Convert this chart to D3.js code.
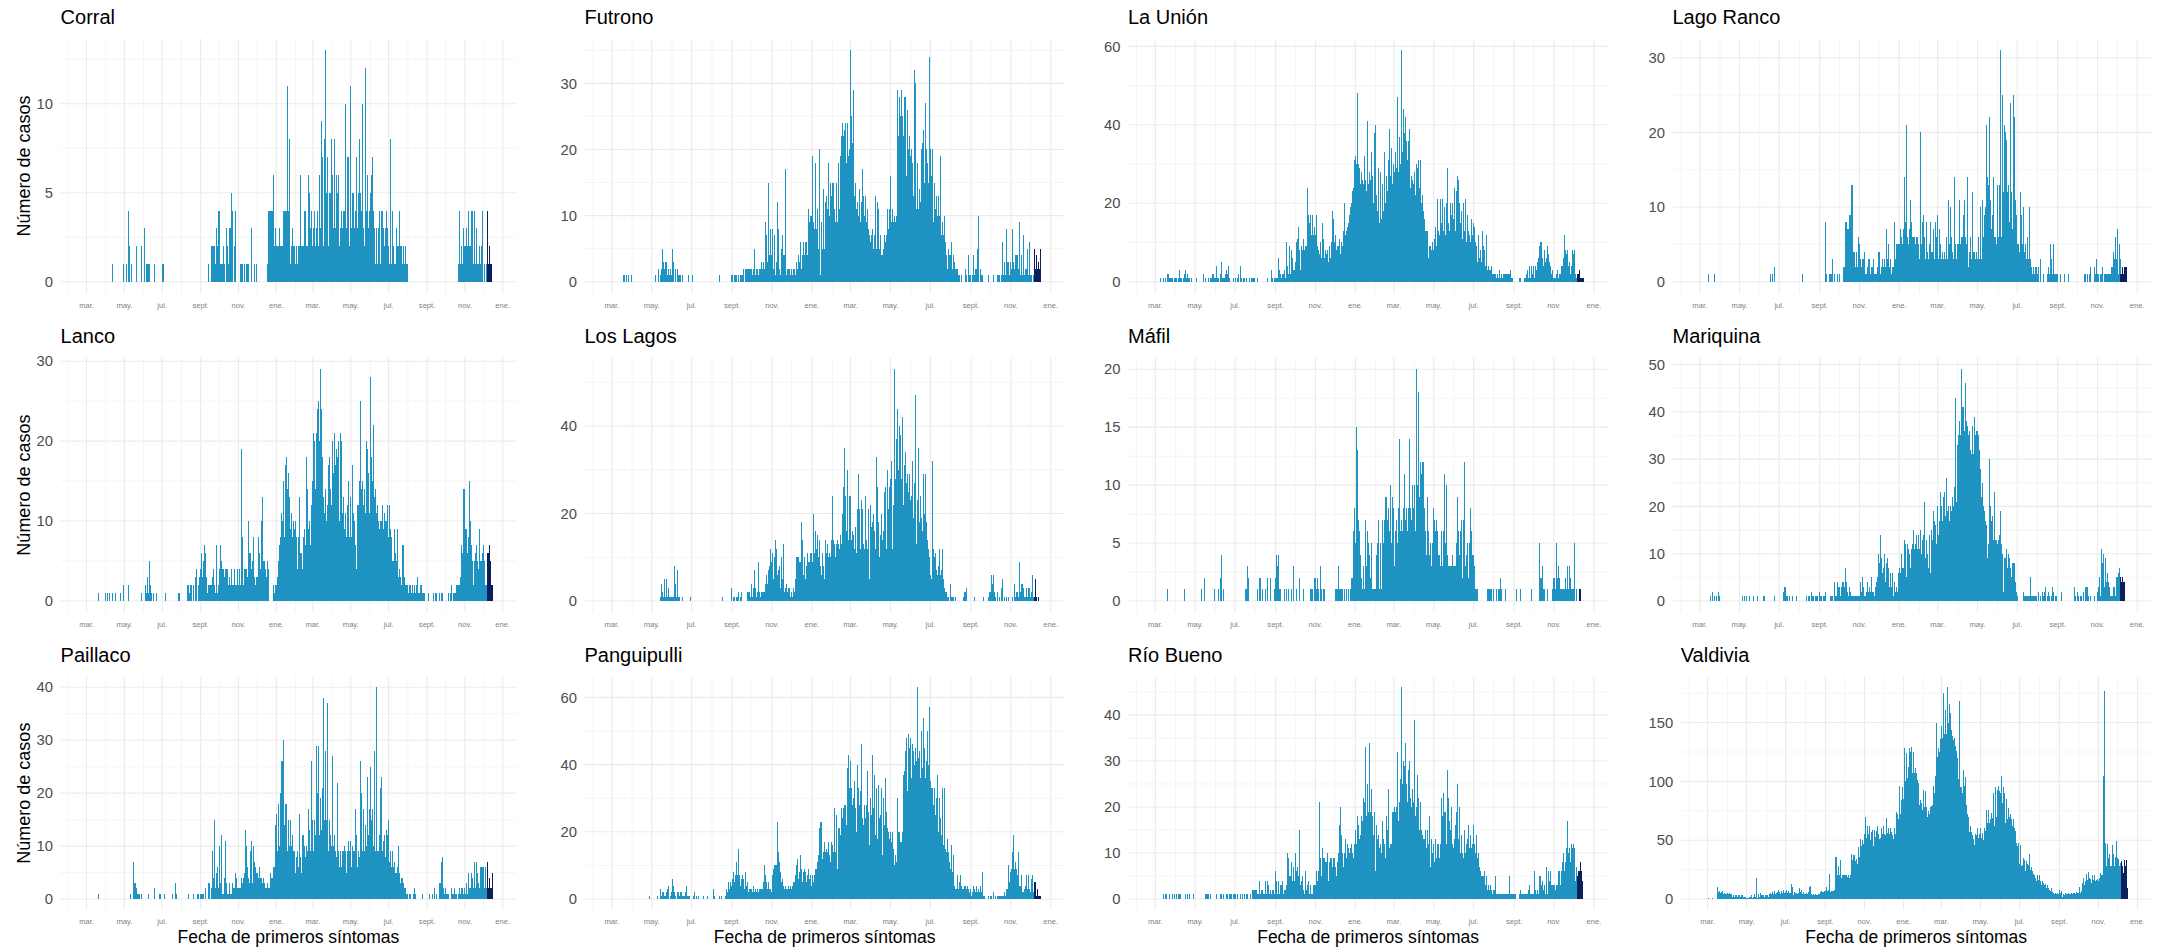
<!DOCTYPE html>
<html><head><meta charset="utf-8">
<script src="https://cdn.jsdelivr.net/npm/d3@7"></script>
<style>
body{margin:0;background:#fff}
svg{display:block}
text{font-family:"Liberation Sans",Arial,Helvetica,sans-serif}
</style>
</head><body>
<svg id="chart" width="2178" height="950"></svg>
<script>
const communes = ["Corral","Futrono","La Unión","Lago Ranco","Lanco","Los Lagos","Máfil","Mariquina","Paillaco","Panguipulli","Río Bueno","Valdivia"];
const xTickLabels = ["mar.","may.","jul.","sept.","nov.","ene.","mar.","may.","jul.","sept.","nov.","ene."];
const yTickSteps = [5,10,20,10,10,20,5,10,10,20,10,50];
const xTitle = "Fecha de primeros síntomas";
const yTitle = "Número de casos";

// daily cases, one sub-array per month: Feb 22-29 2020, Mar 2020 ... Dec 1-20 2021
const corral = [
[0,0,0,0,0,0,0,0],
[0,0,0,0,0,0,0,0,0,0,0,0,0,0,0,0,0,0,0,0,0,0,0,0,0,0,0,0,0,0,0],
[0,0,0,0,0,0,0,0,0,0,0,1,0,0,0,0,0,0,0,0,0,0,0,0,0,0,0,0,0,1],
[0,0,0,0,1,0,0,4,2,1,0,1,0,0,0,0,0,0,0,2,0,0,0,0,0,0,0,0,2,0,0],
[0,0,3,0,0,1,0,1,1,0,1,0,0,0,0,0,0,0,1,0,0,0,0,0,0,0,0,0,0,0],
[1,0,1,0,0,0,0,0,0,0,0,0,0,0,0,0,0,0,0,0,0,0,0,0,0,0,0,0,0,0,0],
[0,0,0,0,0,0,0,0,0,0,0,0,0,0,0,0,0,0,0,0,0,0,0,0,0,0,0,0,0,0,0],
[0,0,0,0,0,0,0,0,0,0,0,0,1,0,0,0,0,0,2,2,1,2,1,2,1,3,1,2,1,4],
[1,4,1,1,0,1,1,2,1,1,0,1,3,1,2,1,3,1,3,5,1,4,1,0,2,0,4,0,0,0,0],
[0,0,0,0,1,1,0,1,0,1,0,0,0,1,0,1,1,0,0,0,0,3,0,0,0,0,1,0,0,1],
[0,0,0,0,0,0,0,0,0,0,0,0,0,0,0,0,0,1,0,4,4,3,4,4,2,4,0,6,2,3,2],
[2,1,2,2,1,3,2,2,2,1,2,4,4,4,4,4,2,4,11,2,4,1,8,1,2,1,3,2,1,2,1],
[1,2,1,1,2,1,2,2,6,1,2,2,1,2,4,1,4,2,1,2,2,6,5,1,3,2,4,1],
[2,3,1,4,2,3,2,4,4,2,1,6,3,6,9,6,7,2,8,4,3,13,5,3,7,2,5,5,5,2,8],
[6,2,3,1,8,3,2,6,1,5,3,6,2,1,3,4,2,3,4,2,4,1,10,3,2,7,7,5,2,4],
[11,3,5,2,4,5,3,4,3,2,7,3,4,5,8,4,5,3,4,10,2,3,2,2,12,3,4,6,3,2,4],
[5,3,6,2,7,4,3,2,3,1,2,3,1,3,2,3,4,1,2,4,4,1,3,2,1,3,3,4,1,3],
[2,1,1,8,1,1,4,1,2,1,1,1,1,3,1,2,2,1,4,2,2,2,1,1,2,1,1,2,1,1,1],
[0,0,0,0,0,0,0,0,0,0,0,0,0,0,0,0,0,0,0,0,0,0,0,0,0,0,0,0,0,0,0],
[0,0,0,0,0,0,0,0,0,0,0,0,0,0,0,0,0,0,0,0,0,0,0,0,0,0,0,0,0,0],
[0,0,0,0,0,0,0,0,0,0,0,0,0,0,0,0,0,0,0,0,0,1,4,2,1,2,1,1,3,1,2],
[1,2,3,1,2,4,1,1,2,2,4,2,1,4,1,2,4,1,3,1,1,1,1,1,2,1,2,2,4,1],
[0,1,0,0,1,0,4,1,1,2,1,1,1,1,0,0,0,0,0,0]
];
const futrono = [
[0,0,0,0,0,0,0,0],
[0,0,0,0,0,0,0,0,0,0,0,0,0,0,0,0,0,0,1,0,1,0,1,0,0,0,1,0,0,0,1],
[0,0,0,0,0,0,0,0,0,0,0,0,0,0,0,0,0,0,0,0,0,0,0,0,0,0,0,0,0,0],
[0,0,0,0,0,0,1,0,0,0,2,0,0,1,0,2,5,4,3,2,1,3,3,2,1,2,2,1,1,2,1],
[0,5,3,1,0,2,1,0,0,2,1,1,0,1,0,0,1,0,0,0,0,0,0,0,0,1,0,0,0,0],
[0,1,0,0,0,0,0,0,0,0,0,0,0,0,0,0,0,0,0,0,0,0,0,0,0,0,0,0,0,0,0],
[0,0,0,0,0,0,0,0,0,0,0,1,0,0,0,0,0,0,0,0,0,0,0,0,0,0,0,0,0,0,1],
[0,1,0,1,0,1,0,1,0,0,1,0,1,0,1,0,1,2,1,0,1,2,2,1,2,2,1,2,2,2],
[1,1,1,2,5,1,1,2,1,2,1,2,1,2,1,3,2,1,3,2,2,9,3,7,3,4,15,4,8,4,4],
[8,4,2,7,4,1,3,2,12,3,8,1,2,1,5,5,7,4,3,4,17,6,1,2,1,2,1,2,1,2],
[2,1,2,1,1,2,1,3,3,2,4,3,3,6,2,2,4,4,6,3,4,6,4,6,4,11,4,9,8,10,7],
[10,19,8,9,8,9,18,8,11,9,5,20,17,1,9,5,5,14,9,5,12,9,13,5,11,5,18,10,9,15,13],
[15,9,15,10,11,9,15,13,9,18,10,11,19,9,22,18,24,22,18,23,18,24,18,18,24,19,18,20],
[35,25,18,21,18,29,13,15,12,11,12,9,10,8,14,9,7,12,17,6,13,10,7,13,9,6,11,5,8,7,6],
[5,7,6,8,5,6,7,13,5,4,12,6,11,5,7,3,4,3,4,4,5,7,6,3,7,4,11,8,11,8],
[16,6,9,11,6,9,10,8,9,10,20,29,17,22,28,25,20,29,13,25,22,28,18,28,16,15,26,20,10,22,13],
[19,20,17,18,13,32,29,30,20,11,18,15,11,12,14,12,20,15,21,13,23,15,27,10,20,12,18,15,34,18],
[20,12,16,11,20,9,15,14,11,13,8,10,13,7,10,8,19,7,8,9,7,9,10,6,1,4,2,4,5,3,4],
[4,3,6,2,4,3,3,2,2,2,1,2,1,1,1,0,1,0,0,0,0,0,2,1,0,1,0,1,4,1,1],
[1,0,1,0,4,0,1,2,0,2,5,10,4,0,2,0,1,0,1,0,0,0,0,0,0,0,0,1,0,0],
[0,0,0,0,1,0,0,0,0,0,1,0,1,0,1,0,1,0,6,1,1,3,2,1,8,2,3,1,3,1,3],
[3,2,4,8,3,2,2,4,4,3,4,2,1,2,9,1,2,4,1,7,1,1,2,1,2,1,5,1,6,1],
[1,0,1,0,1,1,5,1,2,1,4,2,2,3,2,5,1,0,0,0]
];
const laUnion = [
[0,0,0,0,0,0,0,0],
[0,0,0,0,0,0,0,0,1,0,0,0,0,1,0,1,1,0,2,1,2,1,0,1,1,1,0,1,0,1,1],
[1,0,1,0,0,1,3,1,0,1,0,0,1,2,0,3,1,1,2,0,1,0,1,0,0,1,0,0,0,0],
[0,0,1,0,0,0,0,0,0,0,0,0,2,0,0,0,1,0,0,0,0,1,0,1,0,1,2,1,2,1,1],
[1,0,4,1,0,1,0,0,2,1,5,1,0,1,1,2,1,3,1,2,4,1,0,0,0,0,0,1,0,0],
[1,0,0,1,0,1,2,0,1,4,1,0,0,1,0,1,0,1,0,0,0,0,1,0,0,1,0,1,1,0,1],
[0,0,0,1,0,0,0,0,0,0,0,0,0,0,0,0,0,0,0,1,0,0,0,0,3,0,0,1,0,1,1],
[1,1,1,1,0,6,3,1,2,1,2,2,2,1,3,1,10,5,4,2,2,3,9,2,8,3,6,2,3,3],
[3,5,10,11,4,14,7,8,3,8,9,8,9,11,8,9,8,8,9,24,8,17,15,9,17,12,13,17,12,14,13],
[12,14,17,9,8,6,7,10,9,6,15,9,8,11,6,8,6,7,7,8,5,7,9,6,3,10,18,7,16,10],
[6,12,8,5,9,6,9,11,6,7,10,8,9,13,7,20,12,10,13,14,11,15,17,19,18,20,23,22,24,25,31],
[31,32,30,29,48,30,27,29,25,26,28,26,25,24,32,26,21,23,41,14,25,23,28,26,33,22,25,27,20,24,38],
[40,21,22,18,20,29,15,28,27,16,25,22,18,25,33,20,15,27,23,31,27,21,39,27,18,34,25,27],
[30,28,33,30,29,47,37,28,27,37,30,59,36,33,44,31,38,42,27,36,30,31,36,28,39,24,22,27,23,26,25],
[28,24,22,30,26,29,31,28,24,31,27,20,22,19,18,18,16,13,12,13,11,13,6,9,8,9,7,8,10,8],
[8,11,9,14,9,21,7,13,10,12,14,21,15,11,21,13,9,19,12,20,10,29,13,15,13,20,12,17,14,20,16],
[13,24,13,18,23,21,27,26,20,12,15,14,18,11,15,20,13,21,12,10,17,12,13,9,12,10,16,9,12,10],
[15,9,14,10,9,7,5,4,12,6,8,6,5,13,7,9,6,8,4,5,12,3,4,3,3,2,3,4,2,2,2],
[2,2,1,2,1,2,2,1,3,1,1,2,2,1,1,2,2,2,2,2,1,2,2,2,2,3,1,1,1,1,0],
[0,0,0,0,0,0,0,0,1,1,0,0,0,0,0,0,1,0,1,2,1,3,1,2,4,1,4,1,2,1],
[4,1,2,4,3,5,4,6,9,5,10,8,10,4,6,4,8,6,5,6,5,9,4,7,5,3,4,2,3,1,1],
[1,1,1,2,2,3,1,1,1,2,2,4,1,4,3,6,12,5,8,7,6,8,4,5,3,2,4,4,8,7],
[7,1,8,2,1,1,2,2,2,3,1,1,1,1,1,1,0,0,0,0]
];
const lagoRanco = [
[0,0,0,0,0,0,0,0],
[0,0,0,0,0,0,0,0,0,0,0,0,0,0,1,0,0,0,0,0,0,0,0,1,0,0,0,0,0,0,0],
[0,0,0,0,0,0,0,0,0,0,0,0,0,0,0,0,0,0,0,0,0,0,0,0,0,0,0,0,0,0],
[0,0,0,0,0,0,0,0,0,0,0,0,0,0,0,0,0,0,0,0,0,0,0,0,0,0,0,0,0,0,0],
[0,0,0,0,0,0,0,0,0,0,0,0,0,0,0,0,1,0,0,1,0,0,2,0,0,0,0,0,0,0],
[0,0,0,0,0,0,0,0,0,0,0,0,0,0,0,0,0,0,0,0,0,0,0,0,0,0,0,0,0,0,0],
[0,0,0,0,1,0,0,0,0,0,0,0,0,0,0,0,0,0,0,0,0,0,0,0,0,0,0,0,0,0,0],
[0,0,0,0,0,0,0,0,0,8,1,0,0,0,0,1,0,1,1,3,0,0,0,1,0,0,0,1,0,0],
[0,1,0,0,0,0,0,2,2,8,4,8,3,7,7,9,7,9,13,8,13,9,4,1,4,2,1,4,2,4,6],
[5,3,1,2,2,3,3,3,4,1,1,1,2,1,3,3,2,1,2,1,2,2,3,1,1,1,1,1,2,4],
[4,1,1,2,1,2,3,2,3,1,2,7,1,3,5,1,2,1,3,1,2,1,2,3,8,3,1,5,4,5,5],
[5,5,7,5,6,5,7,5,14,6,8,21,5,6,5,7,6,11,8,6,5,6,6,5,6,5,6,4,6,5,5],
[3,20,4,5,3,8,9,3,6,3,8,7,3,4,3,5,3,8,4,3,4,3,7,3,4,8,6,4],
[9,3,4,7,5,2,3,4,2,3,4,2,3,4,6,3,11,7,5,4,10,6,3,4,3,14,5,4,5,3,5],
[4,5,11,5,5,6,5,6,9,5,11,6,3,5,14,4,2,3,4,5,6,3,12,7,4,3,4,3,2,4],
[3,4,6,3,10,7,3,11,3,6,4,9,9,10,21,14,14,13,22,21,11,7,6,9,14,3,6,4,6,5,11],
[13,6,13,5,11,31,6,25,6,12,6,21,20,19,16,12,12,13,8,24,10,12,5,7,25,22,13,10,11,9],
[4,5,5,4,3,12,4,9,5,8,10,4,3,5,3,6,3,3,2,10,3,1,2,1,1,2,1,1,2,2,1],
[1,2,1,0,1,3,0,0,0,1,0,0,0,0,0,0,1,2,1,1,5,1,3,1,5,2,1,1,1,1,0],
[1,0,0,0,0,1,0,0,0,0,1,0,0,0,0,0,1,0,0,0,0,0,0,0,0,0,0,0,0,0],
[0,0,0,0,0,0,0,0,0,0,0,1,1,1,0,1,0,0,0,1,1,2,0,0,0,0,2,1,1,2,3],
[1,0,1,0,1,0,1,1,2,0,1,1,1,0,1,1,1,1,1,1,1,1,2,2,4,2,3,3,6,3],
[5,7,1,5,1,3,1,1,1,2,1,2,1,2,2,0,0,0,0,0]
];
const lanco = [
[0,0,0,0,0,0,0,0],
[0,0,0,0,0,0,0,0,0,0,0,0,0,0,0,0,0,0,0,0,1,0,0,0,0,0,0,0,0,0,1],
[0,0,0,1,0,0,1,0,0,0,0,1,0,0,0,1,0,0,0,0,0,0,0,0,1,0,0,0,0,2],
[0,0,0,0,0,0,0,2,0,0,0,0,0,0,0,0,0,0,0,0,0,0,0,0,0,0,0,0,1,0,0],
[0,0,0,2,1,0,3,3,1,5,1,2,1,0,0,0,1,0,0,0,0,1,0,0,0,0,0,0,0,0],
[0,0,0,0,0,1,0,0,0,0,0,0,0,0,0,0,0,0,0,0,0,0,0,0,0,0,0,1,1,0,0],
[0,0,0,0,0,0,0,0,0,0,2,1,2,1,0,2,1,2,0,2,2,0,3,0,4,3,0,2,2,3,4],
[4,2,6,3,5,3,7,6,3,2,3,1,1,2,2,1,2,2,1,3,3,4,2,1,1,6,7,1,1,2],
[4,4,7,5,3,4,1,4,3,2,4,4,3,3,4,2,3,2,2,1,4,2,1,2,3,4,2,2,1,1,4],
[2,4,2,2,1,19,8,2,2,4,2,4,2,4,2,3,10,6,5,3,6,4,5,4,8,2,3,2,2,3],
[3,2,8,2,6,4,4,10,13,6,5,3,5,2,4,3,2,5,4,1,0,0,0,0,0,0,1,2,1,2,1],
[1,2,3,2,5,7,8,4,5,11,10,7,15,8,15,17,18,6,14,8,16,9,13,9,9,11,8,9,10,6,9],
[10,6,8,4,8,6,13,5,6,5,6,4,6,8,5,9,7,15,18,14,11,9,8,10,7,12,8,11],
[15,21,13,20,14,20,21,15,24,25,20,16,29,22,24,18,16,13,11,8,12,14,10,12,9,17,11,18,14,10,12],
[12,20,16,21,20,15,17,19,13,18,20,14,10,21,14,20,11,8,13,8,9,8,11,8,12,10,15,12,8,6],
[13,8,10,17,11,8,10,7,3,4,3,12,11,12,15,11,25,14,11,15,12,7,14,10,11,20,12,19,15,16,11],
[18,28,12,18,15,10,22,13,12,14,10,11,12,8,10,9,9,10,8,10,12,9,8,9,11,10,8,10,12,8],
[8,4,12,9,4,8,5,4,5,9,4,6,5,4,4,9,3,4,2,3,2,2,1,7,7,3,2,1,2,2,1],
[2,1,2,1,1,2,1,0,2,1,2,0,1,0,2,1,3,1,0,1,2,1,2,0,1,1,0,1,0,0,0],
[0,0,1,0,0,0,0,0,0,0,1,0,0,1,0,0,1,0,0,0,1,0,0,1,0,1,0,0,0,0],
[0,0,0,0,0,1,0,1,0,1,2,0,1,0,1,0,1,2,0,2,1,2,0,2,3,1,7,6,8,14,9],
[14,9,6,9,6,8,4,15,12,10,7,6,5,3,2,5,4,6,3,7,4,5,4,7,9,5,4,5,6,2],
[7,2,5,2,2,2,4,6,6,7,4,4,5,2,2,0,0,0,0,0]
];
const losLagos = [
[0,0,0,0,0,0,0,0],
[0,0,0,0,0,0,0,0,0,0,0,0,0,0,0,0,0,0,0,0,0,0,0,0,0,0,0,0,0,0,0],
[0,0,0,0,0,0,0,0,0,0,0,0,0,0,0,0,0,0,0,0,0,0,0,0,0,0,0,0,0,0],
[0,0,0,0,0,0,0,0,0,0,0,0,0,1,0,4,1,2,1,5,1,1,1,5,1,3,1,1,1,1,1],
[1,0,1,1,8,4,2,1,7,6,1,1,1,0,0,0,1,0,0,0,0,0,0,0,0,0,0,0,1,1],
[0,0,0,0,0,0,0,0,0,0,0,0,0,0,0,0,0,0,0,0,0,0,0,0,0,0,0,0,0,0,0],
[0,0,0,0,0,0,0,0,0,0,0,0,0,0,0,0,1,0,0,0,0,0,0,0,0,0,0,0,0,0,3],
[0,0,1,0,1,0,1,0,1,2,0,0,1,0,1,2,0,0,0,0,0,0,0,0,2,2,2,1,1,1],
[4,1,3,1,7,2,3,1,2,1,9,1,2,1,1,2,1,2,2,1,2,4,3,6,4,7,6,8,5,12,9],
[6,11,5,7,10,14,5,12,6,5,7,4,8,3,10,4,5,13,4,2,3,2,4,2,1,3,2,3,1,2],
[2,1,2,3,2,2,5,2,10,10,9,10,9,9,9,18,14,4,6,9,10,5,7,8,11,7,9,9,8,11,11],
[11,9,20,16,11,13,16,12,11,15,10,5,14,8,6,5,11,8,7,5,9,14,11,9,13,10,8,11,10,9,14],
[24,8,14,10,13,10,13,11,14,3,13,12,13,15,13,14,20,26,35,13,21,24,16,21,30,14,16,24],
[24,14,13,16,15,10,12,17,11,11,21,14,29,9,21,12,23,15,14,21,13,5,12,24,14,5,12,16,21,5,22],
[22,17,11,18,20,16,14,12,33,15,26,7,18,10,12,15,11,20,14,16,13,25,18,26,12,30,20,21,12,26],
[28,32,24,12,14,22,53,21,28,37,20,44,30,25,40,38,34,28,26,42,22,31,28,34,23,27,29,22,25,29,23],
[22,24,32,13,19,27,19,47,27,13,23,20,35,13,18,24,12,19,16,29,12,20,15,29,18,11,14,12,10,9],
[6,5,5,6,32,12,10,8,11,6,7,6,4,8,12,6,5,7,12,4,5,3,3,2,2,1,1,1,1,0,0],
[4,1,0,1,0,1,0,1,1,0,0,0,0,0,0,0,0,0,0,0,1,2,0,2,3,0,0,0,0,0,0],
[0,0,0,0,0,1,0,0,0,0,0,0,0,0,0,0,0,0,0,0,1,0,0,0,0,0,0,1,2,1],
[2,1,6,4,1,6,2,1,1,0,1,2,0,1,1,0,3,0,5,0,0,1,0,0,1,0,0,1,0,0,0],
[0,0,1,0,0,4,1,1,2,1,2,1,1,1,9,2,4,3,4,3,3,1,1,0,3,1,1,3,1,3],
[1,2,0,6,0,1,1,1,5,1,1,0,1,0,0,0,0,0,0,0]
];
const mafil = [
[0,0,0,0,0,0,0,0],
[0,0,0,0,0,0,0,0,0,0,0,0,0,0,0,0,0,0,0,1,0,0,0,0,0,0,0,0,0,0,0],
[0,0,0,0,0,0,0,0,0,0,0,0,0,1,0,0,0,0,0,0,0,0,0,0,0,0,0,0,0,0],
[0,0,0,0,0,0,0,0,0,0,1,0,0,0,0,2,0,0,0,0,0,0,0,0,0,0,0,0,0,1,0],
[0,0,0,0,1,0,0,2,2,4,0,0,1,0,0,0,0,0,0,0,0,0,0,0,0,0,0,0,0,0],
[0,0,0,0,0,0,0,0,0,0,0,0,0,0,0,0,1,1,0,3,2,0,0,0,0,0,0,0,0,0,0],
[0,0,0,0,1,0,2,0,2,0,0,1,0,0,0,1,0,0,2,0,0,0,0,2,0,0,0,0,0,1,1],
[2,1,4,3,4,2,1,0,1,0,0,0,0,1,0,0,1,0,0,1,0,0,0,0,1,0,0,3,1,0],
[0,0,1,0,0,0,2,0,0,0,0,0,1,0,0,0,0,0,0,0,0,0,0,1,0,1,0,1,0,2,0],
[2,1,0,2,0,1,0,3,0,1,0,0,1,0,1,0,0,0,0,0,0,0,0,0,0,0,0,0,0,0],
[1,0,1,0,1,3,1,1,1,1,1,1,1,0,0,1,0,0,1,0,0,1,0,0,1,2,2,2,6,3,8],
[2,5,15,9,13,7,6,5,4,2,1,1,1,3,1,3,7,3,1,6,5,1,4,2,5,2,1,1,1,0,1],
[1,4,1,5,2,7,1,5,5,1,5,7,5,5,7,9,9,5,7,8,7,6,4,10,4,5,9,7],
[8,3,5,6,7,5,5,8,14,7,6,7,5,6,8,7,11,5,7,5,8,6,8,8,14,8,8,7,10,6,8],
[10,5,6,8,20,10,8,18,9,12,8,11,12,11,12,7,8,6,5,4,9,4,6,2,4,5,3,2,5,3],
[8,7,6,3,7,6,1,4,3,4,3,3,6,2,3,6,2,11,5,10,7,4,3,2,3,3,2,3,3,4,3],
[3,3,3,4,5,4,9,6,4,3,6,5,7,2,7,4,12,3,2,4,5,3,2,5,4,8,6,4,3,4],
[4,3,3,1,1,0,1,0,0,0,0,0,0,0,0,0,0,0,0,0,0,1,1,0,1,0,1,0,1,0,1],
[0,0,0,0,1,0,0,1,0,1,2,1,0,0,0,0,0,0,1,0,0,0,0,0,0,0,0,0,0,0,0],
[0,0,0,1,0,0,0,0,0,1,0,0,0,0,0,0,0,0,0,0,0,0,0,0,0,0,0,1,0,0],
[0,0,0,0,0,0,0,0,1,5,1,2,2,3,1,1,0,1,0,0,0,1,0,0,0,0,0,0,0,1,2],
[2,1,1,1,5,2,1,3,2,1,1,1,1,1,1,1,1,2,1,1,3,1,1,3,3,2,1,1,1,0],
[1,5,1,0,1,0,0,0,0,1,1,0,0,0,0,0,0,0,0,0]
];
const mariquina = [
[0,0,0,0,0,0,0,0],
[0,0,0,0,0,0,0,0,0,0,0,0,0,0,0,0,1,0,0,2,0,0,0,1,0,0,1,0,2,0,1],
[0,0,0,0,0,0,0,0,0,0,0,0,0,0,0,0,0,0,0,0,0,0,0,0,0,0,0,0,0,0],
[0,0,0,0,0,1,0,1,0,0,1,0,0,0,0,0,1,0,0,0,0,0,1,0,0,0,0,1,0,0,0],
[0,0,0,0,0,0,1,0,1,0,0,0,0,0,0,0,0,0,0,0,0,0,0,1,0,0,0,0,0,0],
[0,0,0,0,0,0,1,2,3,3,2,1,1,1,0,0,1,0,0,0,1,0,0,0,0,0,0,1,0,0,0],
[0,0,0,0,0,0,0,0,0,0,1,0,0,0,1,0,1,0,1,2,1,0,1,0,1,0,1,0,1,0,1],
[2,1,1,0,0,0,1,0,1,2,0,0,0,0,0,0,1,0,1,0,1,0,3,4,1,1,1,4,3,3],
[3,1,1,3,3,4,2,4,3,6,7,4,2,2,1,1,3,2,1,1,1,1,1,0,1,1,0,1,1,0,1],
[1,2,4,2,4,5,3,1,1,1,2,1,2,4,2,3,1,2,5,3,2,1,2,1,3,2,4,3,5,10],
[8,6,14,9,5,6,4,7,3,10,4,8,2,9,7,5,3,6,5,3,6,4,1,3,4,2,3,2,1,2,6],
[6,7,6,7,10,7,7,7,13,6,12,5,12,7,11,10,9,7,9,11,8,12,15,11,9,12,14,9,11,14,9],
[11,15,9,10,8,13,14,21,10,9,13,12,10,9,7,11,14,6,10,15,13,12,19,17,9,16,12,17],
[20,14,17,12,16,23,20,17,13,22,23,20,18,26,20,19,20,18,17,20,18,19,18,22,20,24,22,43,22,21,24],
[33,35,38,30,35,41,49,41,41,38,36,35,46,38,37,32,35,36,36,32,32,31,34,37,31,39,34,35,32,36],
[36,33,35,32,28,25,22,25,18,20,16,19,14,17,16,9,8,12,30,22,20,17,15,18,13,13,23,13,10,13,12],
[11,13,10,14,19,16,12,10,5,2,9,8,9,11,5,7,8,10,9,6,7,5,8,6,8,5,8,3,4,2],
[1,1,0,0,0,0,0,0,0,1,2,1,0,1,1,0,1,1,1,0,5,1,1,1,0,1,1,1,1,1,1],
[0,2,1,0,1,0,0,2,0,1,0,2,0,3,0,1,0,2,0,1,0,1,0,3,0,2,0,1,0,1,0],
[0,0,0,0,0,0,2,0,0,0,0,0,0,0,0,0,0,0,0,0,0,0,0,0,0,0,3,0,1,0],
[2,0,1,0,0,1,0,1,0,2,1,0,3,0,3,3,0,1,0,0,1,0,0,0,0,0,0,1,0,0,0],
[2,3,1,5,1,1,11,8,1,10,3,1,5,9,4,6,1,4,3,1,1,1,1,1,3,1,3,1,1,5],
[5,3,6,2,7,5,5,4,4,5,4,4,4,0,0,0,0,0,0,0]
];
const paillaco = [
[0,0,0,0,0,0,0,0],
[0,0,0,0,0,0,0,0,0,0,0,0,0,0,0,0,0,0,0,1,0,0,0,0,0,0,0,0,0,0,0],
[0,0,0,0,0,0,0,0,0,0,0,0,0,0,0,0,0,0,0,0,0,0,0,0,0,0,0,0,0,0],
[0,0,0,0,0,0,0,0,0,0,1,0,0,0,0,7,3,3,3,2,1,1,0,1,0,1,0,0,1,0,0],
[0,0,0,0,0,0,0,0,1,0,0,0,0,0,0,0,0,2,0,0,0,0,0,0,0,0,1,0,1,0],
[0,0,0,1,0,0,0,0,0,0,0,0,0,0,0,0,0,1,0,0,0,3,0,1,0,0,0,0,0,0,0],
[0,0,0,0,0,0,0,0,0,0,0,0,1,0,0,0,0,0,0,1,0,0,0,0,0,0,1,0,1,0,1],
[1,1,0,1,0,1,0,0,2,0,0,0,3,0,1,3,0,1,2,9,2,4,15,5,2,5,3,6,2,2],
[10,6,3,12,3,1,1,1,4,2,11,3,2,1,1,1,1,3,1,0,1,1,3,2,2,2,5,4,2,1,2],
[2,2,1,1,2,4,3,1,4,5,3,2,13,10,6,3,4,3,2,9,2,11,3,2,10,4,7,3,6,5],
[5,3,4,3,6,4,2,4,3,2,4,3,3,2,1,2,3,2,1,2,2,5,5,3,4,4,6,5,6,6,14],
[16,12,9,18,12,10,15,20,22,26,26,22,30,14,18,12,10,18,9,15,8,10,7,15,9,10,12,9,7,5,9],
[5,1,8,9,5,6,5,16,8,4,5,12,11,12,7,10,8,10,10,5,9,17,13,8,9,26,9,12],
[15,9,15,10,12,8,29,20,10,29,12,9,19,12,13,21,9,38,15,9,28,12,15,10,37,9,15,10,9,12,10],
[9,27,10,8,12,7,9,8,10,22,7,9,6,9,8,6,9,7,9,6,10,6,9,5,9,7,11,6,9,10],
[11,6,10,8,9,7,9,10,17,8,12,6,9,6,8,6,26,20,12,9,17,16,9,14,13,10,5,23,12,9,17],
[25,12,15,9,17,9,10,28,12,9,40,10,9,8,9,12,9,21,23,8,9,11,10,12,9,8,13,9,10,12],
[15,7,5,9,5,6,9,4,6,7,4,5,4,5,6,4,10,4,5,3,4,3,4,2,3,2,1,2,1,1,1],
[0,0,1,0,1,0,0,0,0,1,2,1,0,1,0,0,0,0,0,0,0,0,0,0,1,0,0,0,0,0,0],
[0,0,0,0,1,0,0,0,1,0,0,0,2,0,0,1,0,0,0,0,3,0,3,7,3,8,2,1,1,2],
[1,1,1,1,1,1,0,0,0,0,2,1,1,1,2,1,1,1,1,0,0,1,1,2,1,2,1,2,1,1,1],
[2,1,3,1,1,2,5,2,1,2,5,2,4,2,2,7,3,2,7,3,5,2,3,2,2,6,3,6,2,6],
[6,2,2,6,2,2,7,2,2,4,2,2,2,2,5,0,0,0,0,0]
];
const panguipulli = [
[0,0,0,0,0,0,0,0],
[0,0,0,0,0,0,0,0,0,0,0,0,0,0,0,0,0,0,0,0,0,0,0,0,0,0,0,0,0,0,0],
[0,0,0,0,0,0,0,0,0,0,0,0,0,0,0,0,0,0,0,0,0,0,0,0,0,0,0,1,0,0],
[0,0,0,0,0,0,0,0,0,1,0,0,0,0,3,1,2,0,2,1,0,1,2,1,3,4,0,0,1,0,2],
[6,1,2,4,2,1,1,0,2,2,2,1,1,2,1,2,1,1,1,1,2,0,4,1,0,1,0,1,0,0],
[0,0,0,1,1,2,0,0,1,0,0,1,0,0,0,0,0,0,1,0,0,0,0,0,1,0,0,0,0,0,0],
[0,0,0,3,1,0,0,0,0,0,0,1,0,0,0,1,0,0,0,0,0,1,2,3,2,3,5,3,5,5,4],
[6,3,8,5,3,7,7,11,7,10,15,7,3,4,6,4,7,4,6,3,8,5,4,3,5,2,3,2,3,2],
[3,2,4,1,2,1,3,2,3,1,2,3,1,3,2,3,2,3,5,10,4,7,5,4,3,5,3,3,2,3,2],
[7,6,9,8,10,10,9,10,10,23,14,11,11,8,5,4,6,4,4,3,4,2,3,2,3,4,3,2,4,3],
[2,4,5,3,4,5,7,3,10,12,6,3,8,6,13,9,5,3,8,9,6,8,5,5,7,9,7,6,5,7,4],
[4,7,5,4,7,9,7,9,11,8,13,19,21,23,17,23,12,9,14,17,14,11,15,14,9,17,15,13,11,10,17],
[11,16,14,27,20,14,25,12,9,17,21,21,19,15,27,19,24,27,28,22,25,28,22,39,30,43,33,30],
[41,33,30,28,22,30,35,27,22,20,24,40,33,28,14,32,23,46,19,24,22,28,21,24,26,28,38,18,26,16,30],
[17,25,43,24,27,22,37,19,33,20,18,34,22,24,20,25,33,22,13,16,30,22,36,19,26,21,13,20,18,16],
[20,15,17,20,14,15,10,13,13,11,30,14,18,20,20,17,16,17,13,20,37,38,30,44,33,48,32,40,49,45,48],
[46,36,42,46,44,36,40,45,43,41,40,63,42,40,44,36,38,50,39,50,54,45,29,36,41,38,50,40,57,48],
[35,30,33,26,33,28,33,23,25,30,23,37,20,12,30,24,23,19,33,22,16,33,11,15,13,14,18,12,14,11,8],
[9,7,16,8,13,7,4,3,2,3,7,4,3,5,3,7,4,3,3,2,3,4,3,4,2,3,4,3,2,2,3],
[2,1,2,1,4,3,1,2,4,2,2,2,3,2,4,2,2,1,8,1,0,1,0,0,0,0,0,1,0,0],
[1,0,1,0,1,2,0,1,1,0,1,1,1,0,1,1,1,1,1,1,1,2,2,1,2,3,3,5,10,5,8],
[6,9,14,13,19,9,9,11,9,6,7,14,5,4,3,4,7,3,2,2,2,3,4,2,7,3,2,7,2,3],
[2,1,6,7,1,2,5,2,5,1,1,3,1,1,1,1,0,0,0,0]
];
const rioBueno = [
[0,0,0,0,0,0,0,0],
[0,0,0,0,0,0,0,0,0,0,0,0,0,1,0,1,0,1,0,0,0,0,1,0,0,0,0,1,0,1,0],
[0,0,1,0,1,0,1,0,1,0,0,0,0,0,0,1,0,0,1,0,0,1,0,0,0,0,0,1,0,0],
[0,0,0,0,0,0,0,0,0,0,0,0,0,0,0,0,1,1,0,1,0,1,0,0,1,0,0,0,0,0,0],
[0,0,1,0,0,0,0,0,1,0,1,0,1,0,0,0,0,1,0,1,0,1,0,1,0,1,0,1,0,1],
[0,1,0,1,0,0,0,0,0,1,0,1,0,0,0,1,0,1,1,1,0,0,0,0,1,0,1,2,2,1,2],
[2,1,2,1,1,1,4,1,1,2,1,2,1,1,1,4,1,1,4,1,3,1,1,2,1,1,2,1,2,1,1],
[6,3,4,1,4,1,1,3,1,3,1,4,1,2,1,2,3,1,10,9,7,5,3,5,8,4,4,7,6,4],
[10,7,6,4,7,5,4,15,3,4,4,5,2,1,1,1,6,2,2,3,2,4,1,3,1,1,1,1,3,3,3],
[3,6,4,4,6,6,21,9,3,5,10,11,5,9,9,8,5,8,8,10,4,8,6,9,5,9,7,9,8,9],
[7,4,5,8,6,9,10,16,18,20,14,7,10,7,10,9,13,9,8,12,11,8,10,9,11,12,10,8,9,10,12],
[14,15,12,18,11,16,13,10,14,16,18,17,20,22,21,33,29,18,25,22,19,20,34,19,18,24,15,18,14,19,16],
[6,16,12,13,11,14,11,12,11,10,17,11,13,10,12,9,13,18,15,24,12,11,10,12,11,12,19,12],
[19,20,19,16,20,23,32,17,18,21,26,20,46,25,19,30,29,24,34,18,25,21,28,19,30,22,22,20,21,24,21],
[39,23,18,20,15,27,14,22,15,20,21,15,14,12,13,10,13,15,12,11,15,9,12,18,14,7,10,13,10,10],
[12,8,9,13,9,12,8,12,8,9,12,8,22,18,17,23,19,16,19,9,12,28,22,15,17,11,15,20,12,10,11],
[13,10,16,12,19,14,25,13,20,12,10,12,14,10,7,9,15,9,10,12,13,10,16,11,10,14,7,11,12,10],
[16,12,12,10,8,14,9,8,10,7,6,6,5,5,4,5,6,4,3,5,3,2,3,2,2,2,3,1,2,1,2],
[1,2,3,5,1,1,0,1,1,0,1,1,0,1,1,0,1,1,1,0,1,1,0,1,5,1,0,1,1,0,1],
[1,0,1,0,0,0,0,0,1,2,0,1,1,1,1,0,1,1,1,1,1,1,2,2,3,1,1,1,1,1],
[1,6,2,1,1,1,2,1,5,3,1,5,3,3,4,2,2,3,1,7,4,1,5,6,4,6,4,3,2,3,3],
[3,3,2,3,2,3,2,6,4,6,3,6,3,8,6,10,6,8,6,11,12,17,10,9,11,8,12,10,11,10],
[12,6,11,4,7,3,5,5,6,6,8,5,6,4,4,0,0,0,0,0]
];
const valdivia = [
[0,0,0,0,0,0,0,0],
[0,1,0,0,0,0,0,1,0,0,0,0,0,0,0,5,10,6,4,7,5,3,6,7,5,4,5,5,4,3,4],
[5,4,4,5,3,4,4,3,2,3,1,2,3,2,3,1,2,3,2,3,2,1,3,3,1,2,1,2,2,1],
[1,1,0,1,2,1,2,1,3,1,2,1,4,4,2,18,2,1,3,4,2,3,5,3,2,3,3,2,2,2,3],
[3,2,3,2,4,3,3,5,4,3,6,4,7,5,4,3,5,6,4,8,6,5,4,7,6,5,6,8,5,6],
[4,6,8,5,6,7,5,4,5,13,10,4,3,4,6,5,4,5,4,3,5,8,9,6,5,8,4,3,6,3,4],
[4,3,5,4,6,3,10,11,4,3,4,3,4,2,3,3,4,3,2,3,4,3,4,6,5,7,6,5,6,7,5],
[7,5,10,5,7,8,21,8,6,7,6,7,6,7,8,8,36,36,22,20,28,19,20,33,17,18,20,18,20,17],
[20,17,20,20,13,19,20,18,16,20,38,14,20,33,37,20,37,32,25,34,30,28,44,36,51,48,45,43,50,47,44],
[55,70,47,52,62,47,55,62,61,42,50,57,50,59,45,49,59,53,45,58,50,62,55,51,48,52,60,47,55,53],
[62,55,54,52,60,69,56,60,50,55,60,52,57,54,50,45,51,60,52,55,74,60,72,68,70,96,72,80,84,95,86],
[85,90,128,100,101,124,103,99,112,128,125,99,115,129,107,125,110,107,111,104,107,101,95,99,90,80,77,84,82,76,70],
[93,78,65,92,55,78,70,68,75,72,70,78,76,79,80,85,96,90,103,105,98,150,121,110,128,125,110,136],
[147,120,137,175,128,140,161,145,140,180,153,150,166,150,158,144,140,139,131,135,137,121,130,126,113,120,102,100,96,168,95],
[95,84,90,77,110,96,104,77,80,68,72,68,70,57,62,52,57,54,42,51,46,43,55,48,54,58,60,52,55,48],
[60,52,45,56,50,42,53,60,58,66,76,65,72,76,65,68,60,73,61,69,90,85,62,80,95,70,93,88,96,92,82],
[90,88,105,82,76,95,90,80,65,85,77,68,73,77,65,70,72,68,55,62,68,61,60,58,52,48,42,45,48,32],
[30,28,46,28,27,29,35,33,28,24,32,25,23,30,29,38,21,25,27,18,24,21,19,20,17,18,15,13,20,16,14],
[20,15,13,12,11,15,10,14,12,11,13,9,12,10,9,8,5,7,6,9,4,6,5,3,4,5,3,4,5,3,4],
[8,6,5,7,3,2,3,4,3,3,5,4,3,4,4,5,4,4,3,5,4,4,5,4,5,3,4,6,5,4],
[5,7,10,5,6,7,14,10,18,12,11,15,16,21,16,18,23,18,17,12,14,20,15,16,15,20,15,14,16,15,17],
[15,18,15,22,15,20,15,20,105,177,15,48,26,28,47,35,28,38,30,28,28,27,46,38,30,28,32,36,28,49],
[35,34,30,28,31,25,32,22,28,22,23,33,22,28,33,9,0,0,0,0]
];

const seriesList = [corral, futrono, laUnion, lagoRanco, lanco, losLagos, mafil, mariquina, paillaco, panguipulli, rioBueno, valdivia];

const DAY = 864e5;
const highlightFrom = Date.UTC(2021, 11, 7);
const colorMain = "#1f93c2";
const colorRecent = "#0b1f5c";
const gridColor = "#ebebeb";

function toDaily(months) {
  const out = [];
  months.forEach((arr, k) => {
    const start = k === 0 ? Date.UTC(2020, 1, 22) : Date.UTC(2020, 1 + k, 1);
    arr.forEach((v, i) => out.push({ t: start + i * DAY, value: v }));
  });
  return out;
}

const rowTop = [38.7, 357.6, 676.7];
const rowBottom = [293.3, 612.6, 909.6];
const colLabelStart = [36.6, 560.5, 1104, 1648.5];
const colRight = [516.3, 1065, 1608.2, 2151.5];

const svg = d3.select("#chart");
svg.append("rect").attr("width", 2178).attr("height", 950).attr("fill", "#fff");

const measurer = svg.append("text").attr("font-size", 14.8).attr("visibility", "hidden");
function textWidth(s) { measurer.text(s); return measurer.node().getComputedTextLength(); }

const allMonths = d3.utcMonth.range(new Date(Date.UTC(2020, 1, 1)), new Date(Date.UTC(2022, 0, 2)));
const majorMonths = allMonths.filter(d => d.getUTCMonth() % 2 === 0);
const minorMonths = allMonths.filter(d => d.getUTCMonth() % 2 === 1);

communes.forEach((name, idx) => {
  const row = Math.floor(idx / 4), col = idx % 4;
  const data = toDaily(seriesList[idx]);
  const top = rowTop[row], bottom = rowBottom[row];
  const maxV = d3.max(data, d => d.value);
  const step = yTickSteps[idx];
  const yMin = -0.05 * maxV, yMax = 1.05 * maxV;
  const yTicks = d3.range(0, yMax + 1e-9, step);
  const yMinor = d3.range(step / 2, yMax + 1e-9, step);
  const labelW = d3.max(yTicks, t => textWidth(String(t)));
  const left = colLabelStart[col] + labelW + 7.5;
  const right = colRight[col];

  const t0 = data[0].t - 0.45 * DAY, t1 = data[data.length - 1].t + 0.45 * DAY;
  const pad = 0.05 * (t1 - t0);
  const x = d3.scaleUtc().domain([new Date(t0 - pad), new Date(t1 + pad)]).range([left, right]);
  const y = d3.scaleLinear().domain([yMin, yMax]).range([bottom, top]);

  const g = svg.append("g");
  // minor grid
  g.selectAll(".ymin").data(yMinor).join("line")
    .attr("x1", left).attr("x2", right).attr("y1", d => y(d)).attr("y2", d => y(d))
    .attr("stroke", gridColor).attr("stroke-width", 0.55);
  g.selectAll(".xmin").data(minorMonths).join("line")
    .attr("x1", d => x(d)).attr("x2", d => x(d)).attr("y1", top).attr("y2", bottom)
    .attr("stroke", gridColor).attr("stroke-width", 0.55);
  // major grid
  g.selectAll(".ymaj").data(yTicks).join("line")
    .attr("x1", left).attr("x2", right).attr("y1", d => y(d)).attr("y2", d => y(d))
    .attr("stroke", gridColor).attr("stroke-width", 1.1);
  g.selectAll(".xmaj").data(majorMonths).join("line")
    .attr("x1", d => x(d)).attr("x2", d => x(d)).attr("y1", top).attr("y2", bottom)
    .attr("stroke", gridColor).attr("stroke-width", 1.1);

  // bars
  const dayW = x(new Date(DAY)) - x(new Date(0));
  const barW = Math.max(1, 0.9 * dayW);
  g.append("g").attr("shape-rendering", "crispEdges")
    .selectAll("rect").data(data.filter(d => d.value > 0)).join("rect")
    .attr("x", d => x(new Date(d.t)) - barW / 2)
    .attr("width", barW)
    .attr("y", d => y(d.value))
    .attr("height", d => y(0) - y(d.value))
    .attr("fill", d => d.t >= highlightFrom ? colorRecent : colorMain);

  // y labels
  g.selectAll(".ylab").data(yTicks).join("text")
    .attr("x", left - 7.5).attr("y", d => y(d)).attr("dy", "0.35em")
    .attr("text-anchor", "end").attr("font-size", 14.8).attr("fill", "#4d4d4d")
    .text(d => d);
  // x labels
  g.selectAll(".xlab").data(majorMonths).join("text")
    .attr("x", d => x(d)).attr("y", bottom + 14.3)
    .attr("text-anchor", "middle").attr("font-size", 7.6).attr("fill", "#7f7f7f")
    .text((d, i) => xTickLabels[i]);
  // title
  g.append("text").attr("x", left).attr("y", top - 14.3)
    .attr("font-size", 20).attr("fill", "#000").text(name);
  if (col === 0) {
    g.append("text")
      .attr("transform", `translate(30,${(top + bottom) / 2}) rotate(-90)`)
      .attr("text-anchor", "middle").attr("font-size", 18).attr("fill", "#000")
      .text(yTitle);
  }
  if (row === 2) {
    g.append("text").attr("x", (left + right) / 2).attr("y", 943)
      .attr("text-anchor", "middle").attr("font-size", 17.5).attr("fill", "#000")
      .text(xTitle);
  }
});
measurer.remove();
</script>
</body></html>
